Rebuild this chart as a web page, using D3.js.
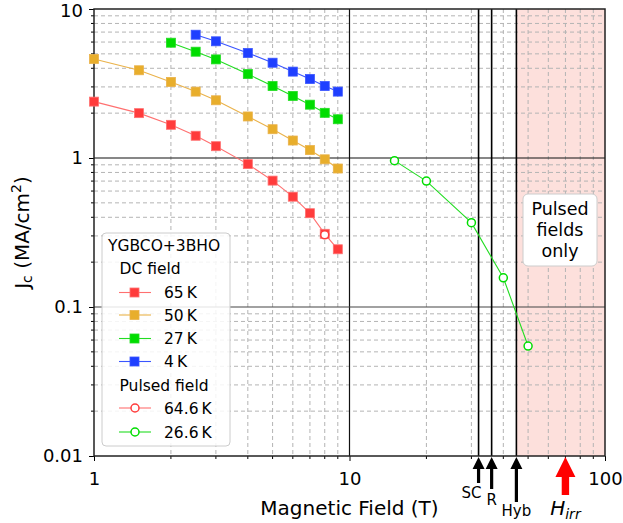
<!DOCTYPE html>
<html>
<head>
<meta charset="utf-8">
<script src="https://cdn.jsdelivr.net/npm/d3@7"></script>
<style>
  body { margin: 0; background: #fff; }
  svg { font-family: "DejaVu Sans", sans-serif; }
</style>
</head>
<body>
<svg id="chart"></svg>
<script>
// field values (T)
const fieldsDC = [1, 1.5, 2, 2.5, 3, 4, 5, 6, 7, 8, 9];
const jc65 = [2.39, 2.0, 1.67, 1.41, 1.20, 0.91, 0.705, 0.55, 0.426, 0.31, 0.244];
const jc50 = [4.62, 3.88, 3.24, 2.79, 2.44, 1.90, 1.56, 1.31, 1.13, 0.98, 0.85];
const fields27 = [2, 2.5, 3, 4, 5, 6, 7, 8, 9];
const jc27 = [5.94, 5.17, 4.59, 3.66, 3.04, 2.61, 2.28, 2.01, 1.82];
const fields4 = [2.5, 3, 4, 5, 6, 7, 8, 9];
const jc4 = [6.72, 6.07, 5.07, 4.36, 3.80, 3.39, 3.04, 2.79];
const fieldsP646 = [8];
const jcP646 = [0.305];
const fieldsP266 = [15, 20, 30, 40, 50];
const jcP266 = [0.96, 0.70, 0.368, 0.157, 0.0547];

const magnetNames = ['SC', 'R', 'Hyb'];
const magnetFields = [32, 36, 45];
const hirrField = 70;

const xTicks = [1, 10, 100];
const yTicks = [0.01, 0.1, 1, 10];

const W = 623, H = 523;
const svg = d3.select('#chart').attr('width', W).attr('height', H);

const x = d3.scaleLog().domain([1, 100]).range([94, 605]);
const y = d3.scaleLog().domain([0.01, 10]).range([456, 9]);

// minor positions
const minorX = [], minorY = [];
[1, 10].forEach(d => { for (let k = 2; k <= 9; k++) minorX.push(d * k); });
[0.01, 0.1, 1].forEach(d => { for (let k = 2; k <= 9; k++) minorY.push(+(d * k).toPrecision(3)); });

// pulsed-only shading
svg.append('rect')
  .attr('x', x(45)).attr('y', y(10))
  .attr('width', x(100) - x(45)).attr('height', y(0.01) - y(10))
  .attr('fill', '#fde0dc');

// minor grid
const grid = svg.append('g');
grid.selectAll('.gx').data(minorX).join('line')
  .attr('x1', d => x(d)).attr('x2', d => x(d))
  .attr('y1', y(10)).attr('y2', y(0.01))
  .attr('stroke', '#b4b4b4').attr('stroke-width', 1).attr('stroke-dasharray', '4,3');
grid.selectAll('.gy').data(minorY).join('line')
  .attr('y1', d => y(d)).attr('y2', d => y(d))
  .attr('x1', x(1)).attr('x2', x(100))
  .attr('stroke', '#b4b4b4').attr('stroke-width', 1).attr('stroke-dasharray', '4,3');

// major grid
grid.append('line').attr('x1', x(10)).attr('x2', x(10)).attr('y1', y(10)).attr('y2', y(0.01))
  .attr('stroke', '#111').attr('stroke-width', 1.2);
[1, 0.1].forEach(v => {
  grid.append('line').attr('y1', y(v)).attr('y2', y(v)).attr('x1', x(1)).attr('x2', x(100))
    .attr('stroke', v === 1 ? '#111' : '#444').attr('stroke-width', 1.2);
});

// magnet lines
svg.selectAll('.mag').data(magnetFields).join('line')
  .attr('x1', d => x(d)).attr('x2', d => x(d))
  .attr('y1', y(10)).attr('y2', y(0.01))
  .attr('stroke', '#000').attr('stroke-width', 1.6);

// axes
const xAxis = d3.axisBottom(x).tickValues(xTicks).tickFormat(d3.format('d')).tickSize(5).tickPadding(11);
const yAxis = d3.axisLeft(y).tickValues(yTicks).tickFormat(d => d >= 1 ? d3.format('d')(d) : String(d)).tickSize(5).tickPadding(6);

const gx = svg.append('g').attr('transform', `translate(0,${y(0.01)})`).call(xAxis);
const gy = svg.append('g').attr('transform', `translate(${x(1)},0)`).call(yAxis);
[gx, gy].forEach(g => {
  g.select('.domain').remove();
  g.selectAll('text').attr('font-size', 18).attr('fill', '#000').attr('font-family', 'DejaVu Sans');
  g.selectAll('line').attr('stroke', '#000').attr('stroke-width', 1);
});
// keep the top label inside the picture
gy.selectAll('.tick text').filter(d => d === 10).attr('dy', '0.42em');
svg.append('g').attr('transform', `translate(0,${y(0.01)})`)
  .selectAll('line').data(minorX).join('line')
  .attr('x1', d => x(d)).attr('x2', d => x(d)).attr('y1', 0).attr('y2', 3)
  .attr('stroke', '#000');
svg.append('g').attr('transform', `translate(${x(1)},0)`)
  .selectAll('line').data(minorY).join('line')
  .attr('y1', d => y(d)).attr('y2', d => y(d)).attr('x1', 0).attr('x2', -3)
  .attr('stroke', '#000');

// frame
svg.append('rect').attr('x', x(1)).attr('y', y(10))
  .attr('width', x(100) - x(1)).attr('height', y(0.01) - y(10))
  .attr('fill', 'none').attr('stroke', '#222').attr('stroke-width', 1.5);

// series
const series = [
  { xs: fieldsDC, ys: jc65, color: '#ff3c3c', line: '#ff7070', shape: 'sq' },
  { xs: fieldsDC, ys: jc50, color: '#e8ae2c', line: '#eab24a', shape: 'sq' },
  { xs: fields27, ys: jc27, color: '#00dd00', line: '#22dd22', shape: 'sq' },
  { xs: fields4, ys: jc4, color: '#1f3fff', line: '#3a55ff', shape: 'sq' },
  { xs: fieldsP646, ys: jcP646, color: '#ff3c3c', line: '#ff7070', shape: 'ci' },
  { xs: fieldsP266, ys: jcP266, color: '#00dd00', line: '#22dd22', shape: 'ci' }
];
const lineGen = d3.line().x(d => x(d[0])).y(d => y(d[1]));
series.forEach(s => {
  const pts = s.xs.map((v, i) => [v, s.ys[i]]);
  const g = svg.append('g');
  g.append('path').datum(pts).attr('d', lineGen)
    .attr('fill', 'none').attr('stroke', s.line).attr('stroke-width', 1.1);
  if (s.shape === 'sq') {
    g.selectAll('rect').data(pts).join('rect')
      .attr('x', d => x(d[0]) - 4.5).attr('y', d => y(d[1]) - 4.5)
      .attr('width', 9).attr('height', 9)
      .attr('fill', s.color).attr('stroke', s.line).attr('stroke-width', 0.8);
  } else {
    g.selectAll('circle').data(pts).join('circle')
      .attr('cx', d => x(d[0])).attr('cy', d => y(d[1])).attr('r', 4)
      .attr('fill', '#fff').attr('stroke', s.color).attr('stroke-width', 1.5);
  }
});

// legend
const lg = svg.append('g');
lg.append('rect').attr('x', 102).attr('y', 233).attr('width', 128).attr('height', 213)
  .attr('rx', 4).attr('fill', '#fff').attr('fill-opacity', 0.85)
  .attr('stroke', '#cccccc').attr('stroke-width', 1);
lg.append('text').attr('x', 108).attr('y', 251).attr('font-size', 15.5).text('YGBCO+3BHO');
lg.append('text').attr('x', 119.5).attr('y', 273.5).attr('font-size', 15.5).text('DC field');
lg.append('text').attr('x', 119.5).attr('y', 391).attr('font-size', 15.5).text('Pulsed field');
const legItems = [
  { s: series[0], label: '65\u2009K', yy: 292.5 },
  { s: series[1], label: '50\u2009K', yy: 315 },
  { s: series[2], label: '27\u2009K', yy: 338.5 },
  { s: series[3], label: '4\u2009K', yy: 361.5 },
  { s: series[4], label: '64.6\u2009K', yy: 408 },
  { s: series[5], label: '26.6\u2009K', yy: 432 }
];
legItems.forEach(it => {
  lg.append('line').attr('x1', 119).attr('x2', 151).attr('y1', it.yy).attr('y2', it.yy)
    .attr('stroke', it.s.line).attr('stroke-width', 1.1);
  if (it.s.shape === 'sq') {
    lg.append('rect').attr('x', 130).attr('y', it.yy - 4.5).attr('width', 9).attr('height', 9)
      .attr('fill', it.s.color).attr('stroke', it.s.line).attr('stroke-width', 0.8);
  } else {
    lg.append('circle').attr('cx', 135).attr('cy', it.yy).attr('r', 4)
      .attr('fill', '#fff').attr('stroke', it.s.color).attr('stroke-width', 1.5);
  }
  lg.append('text').attr('x', 164).attr('y', it.yy + 5.5).attr('font-size', 15.5).text(it.label);
});

// "Pulsed fields only" box
const pb = svg.append('g');
pb.append('rect').attr('x', 523).attr('y', 194).attr('width', 74).attr('height', 72)
  .attr('rx', 5).attr('fill', '#fff').attr('stroke', '#cccccc').attr('stroke-width', 1);
['Pulsed', 'fields', 'only'].forEach((t, i) => {
  pb.append('text').attr('x', 560).attr('y', 214.5 + i * 21).attr('text-anchor', 'middle')
    .attr('font-size', 17.5).text(t);
});

// magnet arrows below the axis
const arrowLabelY = [492, 499, 510];
const arrowLabelDx = [-7, 0, 0];
const arrowEnd = [483, 489, 502];
magnetFields.forEach((f, i) => {
  const cx = x(f), top = y(0.01) + 1;
  svg.append('path')
    .attr('d', `M${cx},${top} L${cx - 6},${top + 12} L${cx - 1.6},${top + 12} L${cx - 1.6},${arrowEnd[i]} L${cx + 1.6},${arrowEnd[i]} L${cx + 1.6},${top + 12} L${cx + 6},${top + 12} Z`)
    .attr('fill', '#000');
  svg.append('text').attr('x', cx + arrowLabelDx[i]).attr('y', arrowLabelY[i] + 5.5)
    .attr('text-anchor', 'middle').attr('font-size', 15).text(magnetNames[i]);
});
{
  const cx = x(hirrField), top = y(0.01) + 1;
  svg.append('path')
    .attr('d', `M${cx},${top} L${cx - 10},${top + 20} L${cx - 3.7},${top + 20} L${cx - 3.7},495 L${cx + 3.7},495 L${cx + 3.7},${top + 20} L${cx + 10},${top + 20} Z`)
    .attr('fill', '#ff0000');
  const t = svg.append('text').attr('x', cx).attr('y', 515).attr('text-anchor', 'middle')
    .attr('font-size', 20).attr('font-style', 'italic');
  t.append('tspan').text('H');
  t.append('tspan').attr('font-size', 14).attr('dy', 4).text('irr');
}

// axis labels
svg.append('text').attr('x', (x(1) + x(100)) / 2).attr('y', 515)
  .attr('text-anchor', 'middle').attr('font-size', 20).text('Magnetic Field (T)');
const yl = svg.append('text')
  .attr('transform', `translate(29,${(y(10) + y(0.01)) / 2}) rotate(-90)`)
  .attr('text-anchor', 'middle').attr('font-size', 20);
yl.append('tspan').text('J');
yl.append('tspan').attr('font-size', 14).attr('dy', 3).text('c');
yl.append('tspan').attr('dy', -3).text(' (MA/cm');
yl.append('tspan').attr('font-size', 14).attr('dy', -8).text('2');
yl.append('tspan').attr('dy', 8).text(')');
</script>
</body>
</html>
